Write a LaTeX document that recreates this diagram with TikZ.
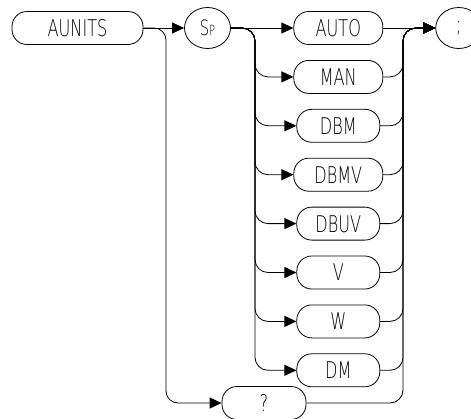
\documentclass[tikz,border=0pt]{standalone}
\usepackage{fontspec}
\setmainfont{DejaVu Sans ExtraLight}[FakeStretch=0.7]
\usetikzlibrary{arrows.meta,shapes.geometric}

\tikzset{
  wire/.style={line width=0.8pt},
  conn/.style={wire, -{Triangle[length=12pt,width=11pt]}},
  pill/.style={draw, line width=0.8pt, rounded corners=15pt, minimum height=33pt,
    inner sep=0pt, text height=16.8pt, text depth=0pt,
    font=\fontsize{23}{25}\selectfont},
  widepill/.style={pill, minimum width=89pt},
  narrowpill/.style={pill, minimum width=83pt},
  term/.style={draw, ellipse, line width=0.8pt, minimum width=46pt,
    minimum height=41pt, inner sep=0pt}
}

\begin{document}
\begin{tikzpicture}[x=1pt, y=-1pt]
  \useasboundingbox (0,0) rectangle (471,418);

  % command keyword, separator and terminator
  \node[pill, minimum width=131pt] (aunits) at (77.5,28) {AUNITS};
  \node[term] (sp) at (207.5,28)
    {{\fontsize{21}{21}\selectfont S}{\fontsize{14}{14}\selectfont P}};
  \node[term, font=\fontsize{23}{25}\selectfont] (semi) at (458.7,28) {;};

  % unit choices
  \node[widepill]   (auto) at (338.3,28.0)  {AUTO};
  \node[widepill]   (man)  at (338.3,76.9)  {MAN};
  \node[narrowpill] (dbm)  at (338.3,125.8) {DBM};
  \node[widepill]   (dbmv) at (338.3,174.7) {DBMV};
  \node[narrowpill] (dbuv) at (338.3,223.6) {DBUV};
  \node[narrowpill] (v)    at (338.3,272.5) {V};
  \node[narrowpill] (w)    at (338.3,321.4) {W};
  \node[narrowpill] (dm)   at (338.3,370.3) {DM};
  \node[pill, minimum width=84pt] (query) at (264,403) {?};

  % branch corners
  \coordinate (qturn) at (166,403);
  \coordinate (merge) at (403,28);
  \coordinate (bman)  at (255,76.9);
  \coordinate (bdbm)  at (255,125.8);
  \coordinate (bdbmv) at (255,174.7);
  \coordinate (bdbuv) at (255,223.6);
  \coordinate (bv)    at (255,272.5);
  \coordinate (bw)    at (255,321.4);
  \coordinate (bdm)   at (255,370.3);

  % main line
  \draw[conn] (aunits.east) -- (sp.west);
  \draw[conn, rounded corners=12pt] (aunits.east) -| (qturn) -- (query.west);

  % fan out after the separator
  \draw[conn] (sp.east) -- (auto.west);
  \foreach \b/\n in {bman/man, bdbm/dbm, bdbmv/dbmv, bdbuv/dbuv, bv/v, bw/w, bdm/dm}
    \draw[conn, rounded corners=13pt] (sp.east) -| (\b) -- (\n.west);

  % merge into the terminator
  \draw[conn] (auto.east) -- (semi.west);
  \foreach \n in {man, dbm, dbmv, dbuv, v, w, dm, query}
    \draw[conn, rounded corners=13pt] (\n.east) -| (merge) -- (semi.west);
\end{tikzpicture}
\end{document}
